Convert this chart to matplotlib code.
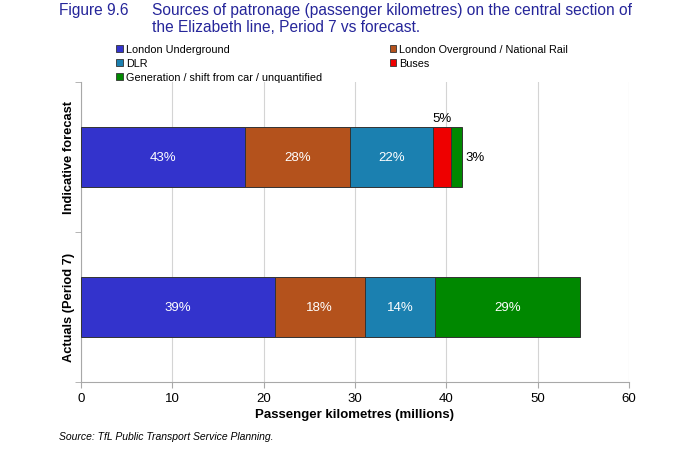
import matplotlib
matplotlib.use("Agg")
import matplotlib.pyplot as plt
import numpy as np
from matplotlib.patches import Patch

plt.rcParams['font.family'] = ['Liberation Sans', 'DejaVu Sans']

# Data (passenger kilometres, millions)
categories = ["Actuals (Period 7)", "Indicative forecast"]
series_names = ["London Underground", "London Overground / National Rail", "DLR",
                "Buses", "Generation / shift from car / unquantified"]
series_colors = ["#3333CC", "#B4521C", "#1B80B0", "#EE0000", "#008800"]
london_underground = [21.2, 18.0]
overground_rail = [9.9, 11.5]
dlr = [7.7, 9.0]
buses = [0.0, 2.0]
generation = [15.8, 1.2]
pct_labels = [["39%", "18%", "14%", "", "29%"],
              ["43%", "28%", "22%", "5%", "3%"]]
x_ticks = [0, 10, 20, 30, 40, 50, 60]

values = np.array([london_underground, overground_rail, dlr, buses, generation])
lefts = np.vstack([np.zeros(2), np.cumsum(values, axis=0)[:-1]])

fig = plt.figure(figsize=(6.8, 4.52), dpi=100)
ax = fig.add_axes([0.119, 0.153, 0.806, 0.664])

y = np.arange(len(categories))
for i in range(len(series_names)):
    ax.barh(y, values[i], left=lefts[i], height=0.4, color=series_colors[i],
            edgecolor="#333333", linewidth=0.7, zorder=3)

# Segment labels
for j in range(len(categories)):
    for i in range(len(series_names)):
        w = values[i, j]
        if w <= 0:
            continue
        cx = lefts[i, j] + w / 2
        if w >= 3:
            ax.text(cx, y[j], pct_labels[j][i], ha="center", va="center",
                    color="white", fontsize=9.5, zorder=4)
        elif i == len(series_names) - 1:
            ax.text(lefts[i, j] + w + 0.4, y[j], pct_labels[j][i], ha="left",
                    va="center", color="black", fontsize=9.5, zorder=4)
        else:
            ax.text(cx, y[j] + 0.22, pct_labels[j][i], ha="center",
                    va="bottom", color="black", fontsize=9.5, zorder=4)

ax.set_xlim(0, 60)
ax.set_ylim(-0.5, 1.5)
ax.set_xticks(x_ticks)
ax.set_xticklabels([str(t) for t in x_ticks], fontsize=9.5)
ax.set_yticks(y)
ax.set_yticklabels(categories, rotation=90, va="center", fontsize=9.3,
                   fontweight="bold")
ax.set_yticks([-0.5, 0.5, 1.5], minor=True)
ax.tick_params(axis="y", which="major", length=0, pad=4)
ax.tick_params(axis="y", which="minor", length=4, color="#A8A8A8")
ax.tick_params(axis="x", length=4, color="#A8A8A8", pad=3)
ax.grid(axis="x", color="#D4D4D4", linewidth=0.8, zorder=0)
for side in ["top", "right"]:
    ax.spines[side].set_visible(False)
for side in ["left", "bottom"]:
    ax.spines[side].set_color("#A8A8A8")
    ax.spines[side].set_linewidth(0.8)
ax.set_xlabel("Passenger kilometres (millions)", fontsize=9.5,
              fontweight="bold", labelpad=3)

# Title
title_color = "#26269A"
fig.text(0.087, 0.993, "Figure 9.6", ha="left", va="top", fontsize=11.2,
         color=title_color)
fig.text(0.223, 0.993,
         "Sources of patronage (passenger kilometres) on the central section of\n"
         "the Elizabeth line, Period 7 vs forecast.",
         ha="left", va="top", fontsize=11.2, color=title_color, linespacing=1.12)

# Legend (two columns placed separately)
handles = [Patch(facecolor=c, edgecolor="#333333", linewidth=0.6) for c in series_colors]
leg_kw = dict(frameon=False, fontsize=7.8, handlelength=0.6, handleheight=0.6,
              handletextpad=0.3, labelspacing=0.38, borderaxespad=0, borderpad=0)
fig.legend([handles[0], handles[2], handles[4]],
           [series_names[0], series_names[2], series_names[4]],
           loc="upper left", bbox_to_anchor=(0.171, 0.9), **leg_kw)
fig.legend([handles[1], handles[3]], [series_names[1], series_names[3]],
           loc="upper left", bbox_to_anchor=(0.573, 0.9), **leg_kw)

fig.text(0.087, 0.033, "Source: TfL Public Transport Service Planning.",
         ha="left", va="center", fontsize=7.5, style="italic")

fig.savefig("out.png", dpi=100, facecolor="white")
